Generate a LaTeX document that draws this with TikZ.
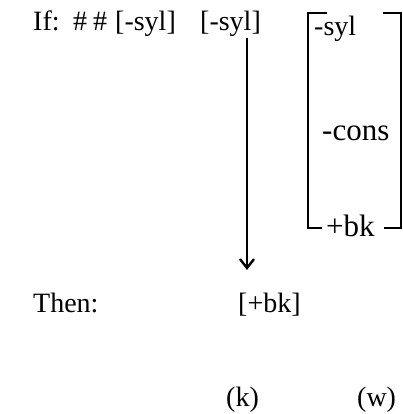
\documentclass[tikz,border=0pt]{standalone}
\usepackage{fontspec}
\setmainfont{Liberation Serif}
\usetikzlibrary{arrows.meta}
\tikzset{
  lbl/.style={anchor=base west, inner sep=0pt, font=\fontsize{28}{32}\selectfont},
  feat/.style={anchor=base west, inner sep=0pt, font=\fontsize{31}{35}\selectfont},
  brk/.style={line width=1.5pt},
  rulearrow/.style={line width=1.6pt, -{Straight Barb[length=9pt,width=14pt,line width=2.4pt]}}
}
\begin{document}
\begin{tikzpicture}[x=1pt,y=-1pt]
\useasboundingbox (0,0) rectangle (403,414);
% condition line
\node[lbl] (if) at (33,31) {If:};
\node[lbl] (h1) at (73,31) {\#};
\node[lbl] (h2) at (93,31) {\#};
\node[lbl] (ctx) at (115,31) {[-syl]};
\node[lbl] (tgt) at (200,31) {[-syl]};
% feature matrix
\node[lbl] (f1) at (314,36) {-syl};
\node[feat] (f2) at (322,140) {-cons};
\node[feat] (f3) at (326,236) {+bk};
\draw[brk] (327,13) -- (308,13) -- (308,228) -- (322,228);
\draw[brk] (383,13) -- (401.2,13) -- (401.2,228) -- (384,228);
% result line
\node[lbl] (then) at (33,312) {Then:};
\node[lbl] (res) at (238,312) {[+bk]};
\coordinate (src) at (247,38);
\coordinate (dst) at (247,270);
\draw[rulearrow] (src) -- (dst);
\node[lbl] (k) at (226,406) {(k)};
\node[lbl] (w) at (357,406) {(w)};
\end{tikzpicture}
\end{document}
